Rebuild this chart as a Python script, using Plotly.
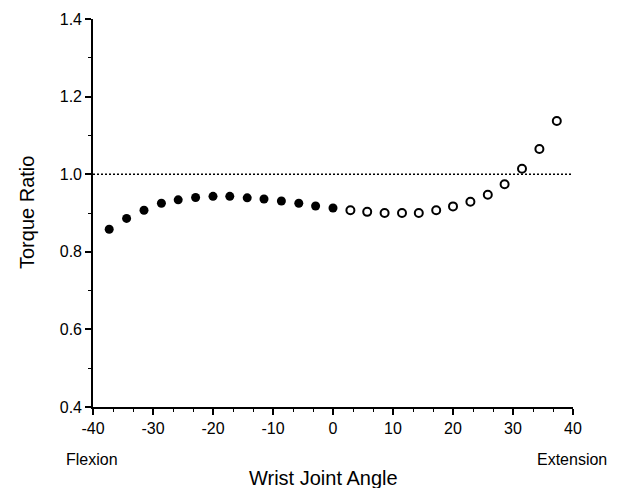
import plotly.graph_objects as go

# Data
flexion_angle = [-37.3, -34.4, -31.5, -28.6, -25.8, -22.9, -20.0, -17.2, -14.3, -11.5, -8.6, -5.7, -2.9, 0.0]
flexion_ratio = [0.858, 0.886, 0.907, 0.925, 0.934, 0.940, 0.943, 0.943, 0.939, 0.936, 0.931, 0.925, 0.918, 0.913]
extension_angle = [2.9, 5.7, 8.6, 11.5, 14.3, 17.2, 20.0, 22.9, 25.8, 28.6, 31.5, 34.4, 37.3]
extension_ratio = [0.907, 0.903, 0.900, 0.900, 0.900, 0.907, 0.917, 0.929, 0.947, 0.974, 1.014, 1.065, 1.137]
reference_x = [-40, 40]
reference_y = [1.0, 1.0]
x_ticks = [-40, -30, -20, -10, 0, 10, 20, 30, 40]
y_ticks = [0.4, 0.6, 0.8, 1.0, 1.2, 1.4]

FONT = "Liberation Sans, Arial, Helvetica, sans-serif"

fig = go.Figure()
fig.add_trace(go.Scatter(x=reference_x, y=reference_y, mode="lines",
                         line=dict(color="black", width=1.6, dash="2px,2px"),
                         hoverinfo="skip", showlegend=False))
fig.add_trace(go.Scatter(x=flexion_angle, y=flexion_ratio, mode="markers",
                         marker=dict(symbol="circle", size=9, color="black"),
                         showlegend=False))
fig.add_trace(go.Scatter(x=extension_angle, y=extension_ratio, mode="markers",
                         marker=dict(symbol="circle-open", size=8, color="black",
                                     line=dict(width=2, color="black")),
                         showlegend=False))

fig.update_layout(
    width=620, height=488,
    margin=dict(l=93, r=47, t=19, b=81),
    paper_bgcolor="white", plot_bgcolor="white",
    font=dict(family=FONT, size=16, color="black"),
    xaxis=dict(range=[-40, 40], tickvals=x_ticks, ticktext=[str(v) for v in x_ticks],
               showgrid=False, zeroline=False, showline=True, linecolor="black", linewidth=1.6,
               ticks="outside", ticklen=6, tickwidth=1.5, tickcolor="black",
               tickfont=dict(size=16),
               minor=dict(tick0=-40, dtick=10/3, ticks="outside", ticklen=3, tickwidth=1.2,
                          tickcolor="black", showgrid=False)),
    yaxis=dict(range=[0.4, 1.4], tickvals=y_ticks, ticktext=[f"{v:.1f}" for v in y_ticks],
               showgrid=False, zeroline=False, showline=True, linecolor="black", linewidth=1.6,
               ticks="outside", ticklen=6, tickwidth=1.5, tickcolor="black",
               tickfont=dict(size=16),
               minor=dict(tick0=0.4, dtick=0.1, ticks="outside", ticklen=3, tickwidth=1.2,
                          tickcolor="black", showgrid=False)),
    annotations=[
        dict(text="Torque Ratio", xref="paper", yref="paper", x=-0.1375, y=0.5,
             textangle=-90, showarrow=False, font=dict(size=20), xanchor="center", yanchor="middle"),
        dict(text="Wrist Joint Angle", xref="paper", yref="paper", x=0.48, y=-0.184,
             showarrow=False, font=dict(size=20), xanchor="center", yanchor="middle"),
        dict(text="Flexion", xref="paper", yref="paper", x=-0.003, y=-0.135,
             showarrow=False, font=dict(size=16), xanchor="center", yanchor="middle"),
        dict(text="Extension", xref="paper", yref="paper", x=0.997, y=-0.135,
             showarrow=False, font=dict(size=16), xanchor="center", yanchor="middle"),
    ],
)

fig.write_html("out.html", config={"displayModeBar": False},
               post_script="document.body.style.margin='0px';")
